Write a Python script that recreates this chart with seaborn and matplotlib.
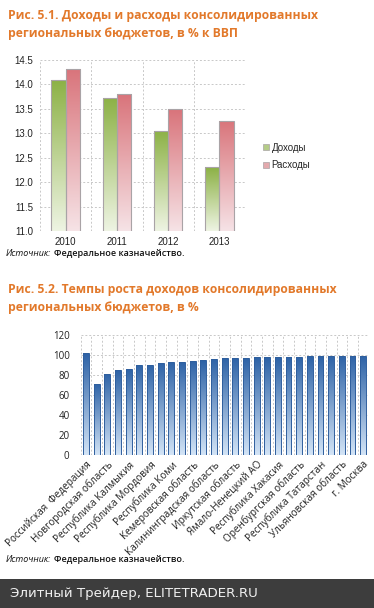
import numpy as np
import pandas as pd
import matplotlib
matplotlib.use('Agg')
import matplotlib.pyplot as plt
import seaborn as sns
from matplotlib.colors import LinearSegmentedColormap
from matplotlib.patches import Patch

# --- data ---
years = ['2010', '2011', '2012', '2013']
revenues = [14.10, 13.73, 13.05, 12.30]
expenses = [14.32, 13.80, 13.49, 13.26]

growth = [101.7, 71.3, 81.3, 84.7, 86.3, 90.0, 90.0, 92.3, 93.0, 93.3, 94.3, 94.8,
          96.3, 97.0, 97.0, 97.3, 97.7, 97.7, 97.7, 98.0, 98.3, 98.7, 98.7, 99.0,
          99.0, 99.3, 99.3]
region_labels = ['Российская  Федерация', 'Новгородская область', 'Республика Калмыкия',
                 'Республика Мордовия', 'Республика Коми', 'Кемеровская область',
                 'Калининградская область', 'Иркутская область', 'Ямало-Ненецкий АО',
                 'Республика Хакасия', 'Оренбургская область', 'Республика Татарстан',
                 'Ульяновская область', 'г. Москва']

ORANGE = '#e2792b'
W, H = 374, 608

sns.set_style('white')
plt.rcParams['font.family'] = ['Open Sans', 'DejaVu Sans']

fig = plt.figure(figsize=(W / 100, H / 100), dpi=100)
fig.patch.set_facecolor('white')


def px_axes(left, top, right, bottom):
    return fig.add_axes([left / W, 1 - bottom / H, (right - left) / W, (bottom - top) / H])


def gradient_bars(ax, patches, top_color, bottom_color, base):
    cmap = LinearSegmentedColormap.from_list('g', [bottom_color, top_color])
    grad = np.linspace(0, 1, 128).reshape(-1, 1)
    for p in patches:
        x, w = p.get_x(), p.get_width()
        top = p.get_y() + p.get_height()
        im = ax.imshow(grad, cmap=cmap, origin='lower', aspect='auto',
                       extent=[x, x + w, base, top], zorder=2)
        im.set_clip_path(p)
        p.set_facecolor('none')
        p.set_zorder(3)


def style_grid(ax, n, ymin, ymax, step):
    ax.set_xticks(np.arange(-0.5, n, 1.0), minor=True)
    ax.grid(True, which='minor', axis='x', color='#c8c8c8', linestyle=(0, (2, 2)), linewidth=0.7)
    ax.grid(True, which='major', axis='y', color='#c8c8c8', linestyle=(0, (2, 2)), linewidth=0.7)
    ax.set_axisbelow(True)
    for s in ax.spines.values():
        s.set_visible(False)
    ax.set_ylim(ymin, ymax)
    ax.set_yticks(np.arange(ymin, ymax + step / 2, step))
    ax.set_xlim(-0.5, n - 0.5)
    ax.tick_params(which='both', length=0)


# --- titles ---
title_lines = [(16, 'Рис. 5.1. Доходы и расходы консолидированных'),
               (33, 'региональных бюджетов, в % к ВВП'),
               (290, 'Рис. 5.2. Темпы роста доходов консолидированных'),
               (307, 'региональных бюджетов, в %')]
for y, txt in title_lines:
    fig.text(8 / W, 1 - y / H, txt, color=ORANGE, fontsize=8.7,
             fontweight='bold', va='center', ha='left')

# --- chart 1 ---
ax1 = px_axes(40, 60, 245, 231)
df1 = pd.DataFrame({'year': years * 2,
                    'value': revenues + expenses,
                    'kind': ['Доходы'] * 4 + ['Расходы'] * 4})
sns.barplot(data=df1, x='year', y='value', hue='kind', ax=ax1, width=0.56,
            edgecolor='#a9a3a6', linewidth=0.8, legend=False, gap=0)
style_grid(ax1, 4, 11.0, 14.5, 0.5)
pats = [p for p in ax1.patches]
gradient_bars(ax1, pats[:4], '#8cb145', '#eef4e3', 11.0)
gradient_bars(ax1, pats[4:8], '#d9747b', '#f6e3e6', 11.0)
ax1.set_ylim(11.0, 14.5)
ax1.set_xlim(-0.5, 3.5)
ax1.set_yticklabels([f'{v:.1f}' for v in np.arange(11.0, 14.51, 0.5)],
                    fontsize=7, family='Liberation Sans', color='#222222')
ax1.set_xticklabels(years, fontsize=7, family='Liberation Sans', color='#222222')
ax1.tick_params(axis='y', pad=5)
ax1.tick_params(axis='x', pad=4)
ax1.set_xlabel('')
ax1.set_ylabel('')

handles = [Patch(facecolor='#b5cc88', edgecolor='#a9a3a6', linewidth=0.5),
           Patch(facecolor='#e3a9ad', edgecolor='#a9a3a6', linewidth=0.5)]
fig.legend(handles, ['Доходы', 'Расходы'], loc='upper left',
           bbox_to_anchor=(254 / W, 1 - 134 / H), frameon=False,
           handlelength=0.6, handleheight=0.6, handletextpad=0.3, labelspacing=0.75,
           prop={'family': 'Liberation Sans', 'size': 7})

# --- source lines ---
renderer = fig.canvas.get_renderer()
for y in (254, 560):
    t = fig.text(6 / W, 1 - y / H, 'Источник:', fontsize=6.5, style='italic',
                 va='center', ha='left', color='#111111')
    x_end = t.get_window_extent(renderer).x1
    fig.text((x_end + 3) / W, 1 - y / H, 'Федеральное казначейство.', fontsize=6.5,
             fontweight='semibold', va='center', ha='left', color='#111111')

# --- chart 2 ---
ax2 = px_axes(80.7, 335, 368.5, 455)
df2 = pd.DataFrame({'pos': np.arange(len(growth)), 'value': growth})
sns.barplot(data=df2, x='pos', y='value', ax=ax2, width=0.55, color='#3a6fb0',
            edgecolor='#2f5f9e', linewidth=0.7)
style_grid(ax2, len(growth), 0, 120, 20)
gradient_bars(ax2, list(ax2.patches), '#2d62a6', '#d3e4f6', 0)
ax2.set_ylim(0, 120)
ax2.set_xlim(-0.5, len(growth) - 0.5)
ax2.set_yticklabels([str(v) for v in range(0, 121, 20)], fontsize=7, color='#222222')
ax2.set_xticks(np.arange(0, len(growth), 2))
ax2.set_xticklabels(region_labels, rotation=45, ha='right', rotation_mode='anchor',
                    fontsize=7.2, color='#222222')
ax2.tick_params(axis='y', pad=8)
ax2.tick_params(axis='x', pad=3)
ax2.set_xlabel('')
ax2.set_ylabel('')

# --- footer band ---
fig.patches.append(plt.Rectangle((0, 0), 1, 29 / H, transform=fig.transFigure,
                                 facecolor='#3d3d3d', edgecolor='none', zorder=0))
fig.text(10 / W, 1 - 594 / H, 'Элитный Трейдер, ELITETRADER.RU', color='#f0f0f0',
         fontsize=9.6, va='center', ha='left', family='DejaVu Sans')

fig.savefig('out.png', dpi=100, facecolor='white')
